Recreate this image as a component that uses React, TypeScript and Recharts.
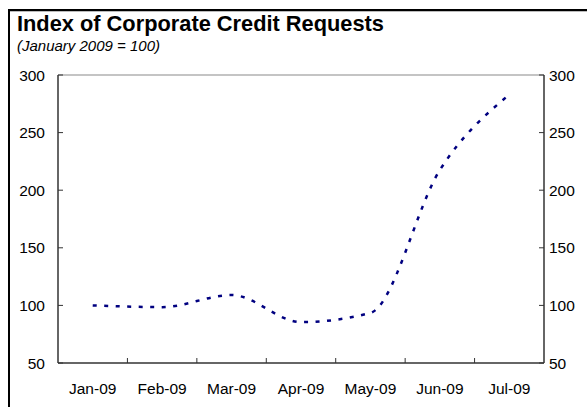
import React from 'react'
import { LineChart, Line, XAxis, YAxis, ReferenceLine } from 'recharts'

const months = ['Jan-09', 'Feb-09', 'Mar-09', 'Apr-09', 'May-09', 'Jun-09', 'Jul-09']
const creditIndex = [100, 98.5, 109, 85.5, 93.5, 217.5, 283]
const yTicks = [50, 100, 150, 200, 250, 300]
const boundaryTicks = [1, 2, 3, 4, 5, 6]

// pos = centre of each month's band on a 0..7 numeric axis
const data = months.map((m, i) => ({ month: m, pos: i + 0.5, value: creditIndex[i] }))

const font = '"Liberation Sans", Arial, sans-serif'
const tickStyle = { fontSize: 15.5, fill: '#000', fontFamily: font }
const axisStroke = '#333'

// axis ticks point into the plot, labels sit outside
function LeftTick({ x, y, payload }: any) {
  return (
    <g>
      <line x1={x} y1={y} x2={x + 5} y2={y} stroke={axisStroke} />
      <text x={x - 13} y={y} dy="0.355em" textAnchor="end" {...tickStyle}>
        {payload.value}
      </text>
    </g>
  )
}

function RightTick({ x, y, payload }: any) {
  return (
    <g>
      <line x1={x - 5} y1={y} x2={x} y2={y} stroke={axisStroke} />
      <text x={x + 5} y={y} dy="0.355em" textAnchor="start" {...tickStyle}>
        {payload.value}
      </text>
    </g>
  )
}

function BottomTick({ x, y }: any) {
  return <line x1={x} y1={y - 5} x2={x} y2={y} stroke={axisStroke} />
}

export default function App() {
  return (
    <div style={{ position: 'absolute', left: 0, top: 0, width: 587, height: 407, overflow: 'hidden', background: '#fff' }}>
      <div
        style={{
          position: 'absolute',
          left: 8,
          top: 9,
          width: 600,
          height: 420,
          borderLeft: '2px solid #000',
          borderTop: '2px solid #000',
          boxShadow: 'inset 0 1px 0 #bbb',
        }}
      />
      <div style={{ position: 'absolute', left: 17, top: 11, fontFamily: font, fontWeight: 700, fontSize: 21.8, color: '#000' }}>
        Index of Corporate Credit Requests
      </div>
      <div style={{ position: 'absolute', left: 17, top: 37, fontFamily: font, fontStyle: 'italic', fontSize: 15, color: '#000' }}>
        (January 2009 = 100)
      </div>
      <div style={{ position: 'absolute', left: 0, top: 0 }}>
        <LineChart width={587} height={407} data={data} margin={{ top: 75, right: 0, bottom: 0, left: 0 }}>
          <XAxis
            xAxisId="a-ticks"
            type="number"
            dataKey="pos"
            domain={[0, 7]}
            ticks={boundaryTicks}
            interval={0}
            height={1}
            tick={<BottomTick />}
            tickSize={0}
            tickMargin={0}
            tickLine={false}
            axisLine={{ stroke: axisStroke, strokeWidth: 1.5 }}
          />
          <XAxis
            xAxisId="b-labels"
            dataKey="month"
            scale="band"
            height={43}
            axisLine={false}
            tickLine={false}
            tickMargin={13}
            tick={tickStyle}
            interval={0}
          />
          <YAxis
            yAxisId="left"
            orientation="left"
            width={58}
            domain={[50, 300]}
            ticks={yTicks}
            interval={0}
            tick={<LeftTick />}
            tickSize={0}
            tickMargin={0}
            tickLine={false}
            axisLine={{ stroke: axisStroke, strokeWidth: 1.5 }}
          />
          <YAxis
            yAxisId="right"
            orientation="right"
            width={43}
            domain={[50, 300]}
            ticks={yTicks}
            interval={0}
            tick={<RightTick />}
            tickSize={0}
            tickMargin={0}
            tickLine={false}
            axisLine={{ stroke: axisStroke, strokeWidth: 1.5 }}
          />
          <ReferenceLine xAxisId="a-ticks" yAxisId="left" y={300} stroke="#b0b0b0" strokeWidth={1.5} />
          {/* invisible series so the label axis and right axis are drawn */}
          <Line
            xAxisId="b-labels"
            yAxisId="right"
            dataKey="value"
            stroke="none"
            dot={false}
            activeDot={false}
            isAnimationActive={false}
          />
          <Line
            xAxisId="a-ticks"
            yAxisId="left"
            type="monotone"
            dataKey="value"
            stroke="#000080"
            strokeWidth={2.5}
            strokeDasharray="4 7.5"
            dot={false}
            activeDot={false}
            isAnimationActive={false}
          />
        </LineChart>
      </div>
    </div>
  )
}
